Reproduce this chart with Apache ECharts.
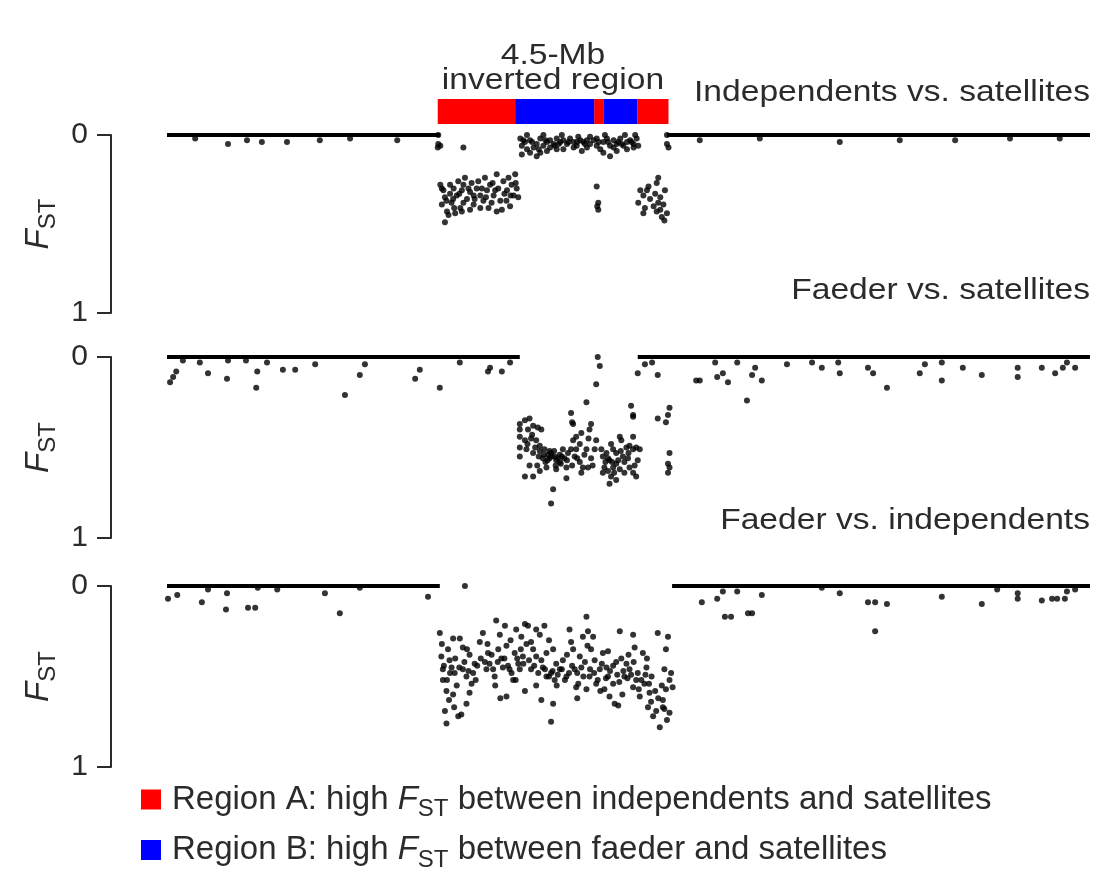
<!DOCTYPE html>
<html>
<head>
<meta charset="utf-8">
<title>FST inverted region</title>
<script src="https://cdn.jsdelivr.net/npm/echarts@6.0.0/dist/echarts.min.js"></script>
<style>
  html, body { margin: 0; padding: 0; background: #fff; }
  #chart { width: 1099px; height: 880px; }
</style>
</head>
<body>
<div id="chart"></div>
<script>
const FONT = "'Liberation Sans', Arial, Helvetica, sans-serif";
const INK = '#2b2b2b';
const DOT = '#000';

// positions in Mb along the chromosome
const regionA = [[5.28, 6.79], [8.33, 8.52], [9.17, 9.78]];
const regionB = [[6.79, 8.33], [8.52, 9.17]];
const comparisons = ['Independents vs. satellites', 'Faeder vs. satellites', 'Faeder vs. independents'];
const regionLabel = ['4.5-Mb', 'inverted region'];

// stretches where FST sits at ~0 (so many SNPs they merge into a line)
const zeroIndSat = [[0, 5.32], [9.75, 18]];
const zeroFaeSat = [[0, 6.88], [9.18, 18]];
const zeroFaeInd = [[0, 5.32], [9.85, 18]];

// [position Mb, FST]
const fstIndSat = [
  [0.55, 0.02], [1.19, 0.05], [1.56, 0.03], [1.85, 0.04], [2.34, 0.04], [2.98, 0.03], [3.57, 0.02], [4.49, 0.03], [5.28, 0.07],
  [5.29, 0.0], [5.29, 0.05], [5.33, 0.06], [5.78, 0.07],
  [6.89, 0.02], [6.92, 0.06], [6.98, 0.04], [7.02, 0.08], [7.08, 0.03], [7.15, 0.07], [7.21, 0.05], [7.28, 0.02], [7.34, 0.06],
  [7.41, 0.04], [7.47, 0.03], [7.54, 0.05], [7.60, 0.02], [7.67, 0.04], [7.73, 0.03], [7.80, 0.05], [7.86, 0.02], [7.93, 0.04],
  [7.99, 0.06], [8.06, 0.03], [8.12, 0.04], [8.19, 0.07], [8.25, 0.05], [8.32, 0.03], [8.38, 0.06], [8.45, 0.08], [8.51, 0.04],
  [8.58, 0.02], [8.64, 0.06], [8.71, 0.03], [8.77, 0.05], [8.84, 0.02], [8.90, 0.06], [8.97, 0.04], [9.03, 0.03], [9.10, 0.05],
  [9.16, 0.02], [9.19, 0.06], [6.92, 0.11], [7.08, 0.10], [7.21, 0.12], [7.41, 0.09], [7.73, 0.08], [8.09, 0.09], [8.51, 0.10],
  [8.64, 0.12], [8.77, 0.09], [8.97, 0.08], [7.02, 0.0], [7.34, 0.0], [7.70, 0.0], [8.02, 0.01], [8.25, 0.01], [8.54, 0.0],
  [8.93, 0.0], [9.13, 0.0], [7.28, 0.10], [7.47, 0.07], [7.60, 0.08], [7.93, 0.07], [8.19, 0.03], [8.38, 0.02], [8.71, 0.07],
  [9.10, 0.07], [7.12, 0.04], [7.38, 0.03], [7.56, 0.06], [7.83, 0.04], [8.15, 0.05], [8.42, 0.04], [8.80, 0.04], [9.06, 0.04],
  [6.95, 0.03], [7.25, 0.08], [7.64, 0.05], [8.00, 0.04], [8.60, 0.04], [8.87, 0.05],
  [5.33, 0.28], [5.39, 0.31], [5.42, 0.35], [5.36, 0.39], [5.46, 0.43], [5.42, 0.49], [5.52, 0.33], [5.59, 0.30], [5.55, 0.38],
  [5.65, 0.34], [5.72, 0.41], [5.75, 0.31], [5.78, 0.28], [5.85, 0.36], [5.81, 0.24], [5.91, 0.32], [5.98, 0.39], [6.04, 0.30],
  [6.11, 0.34], [6.07, 0.26], [6.17, 0.37], [6.24, 0.31], [6.30, 0.28], [6.27, 0.41], [6.37, 0.34], [6.43, 0.22], [6.46, 0.30],
  [6.50, 0.37], [6.56, 0.26], [6.63, 0.31], [6.69, 0.40], [6.72, 0.28], [6.76, 0.34], [6.79, 0.22], [6.82, 0.30], [6.85, 0.35],
  [5.49, 0.45], [5.62, 0.44], [5.75, 0.43], [5.91, 0.42], [6.11, 0.41], [6.43, 0.43], [6.53, 0.42], [5.36, 0.30], [5.52, 0.28],
  [5.68, 0.26], [5.94, 0.27], [6.20, 0.24], [6.66, 0.24], [6.33, 0.38], [5.98, 0.34], [5.78, 0.38], [5.45, 0.37], [5.58, 0.36],
  [5.70, 0.33], [5.88, 0.30], [6.00, 0.36], [6.14, 0.30], [6.22, 0.35], [6.40, 0.31], [6.58, 0.33], [6.70, 0.34], [6.80, 0.27],
  [5.60, 0.41], [6.35, 0.27], [6.62, 0.37],
  [8.38, 0.29], [8.41, 0.38], [8.41, 0.42], [8.39, 0.40],
  [9.58, 0.24], [9.55, 0.27], [9.23, 0.31], [9.29, 0.34], [9.19, 0.38], [9.36, 0.31], [9.42, 0.36], [9.32, 0.41], [9.49, 0.40],
  [9.62, 0.35], [9.68, 0.39], [9.55, 0.43], [9.65, 0.46], [9.75, 0.44], [9.29, 0.44], [9.71, 0.31], [9.39, 0.29], [9.52, 0.33],
  [9.62, 0.42], [9.70, 0.48], [9.58, 0.38],
  [9.75, 0.0], [9.75, 0.05], [9.78, 0.07],
  [10.39, 0.03], [11.56, 0.02], [13.12, 0.04], [14.29, 0.03], [15.37, 0.03], [16.44, 0.02], [17.41, 0.02]
];

const fstFaeSat = [
  [0.06, 0.14], [0.18, 0.08], [0.12, 0.11], [0.31, 0.02], [0.64, 0.03], [0.80, 0.09], [1.17, 0.12], [1.19, 0.02], [1.54, 0.02],
  [1.76, 0.08], [1.74, 0.17], [1.95, 0.03], [2.26, 0.07], [2.50, 0.07], [2.89, 0.04], [3.47, 0.21], [3.76, 0.10], [3.86, 0.04],
  [4.84, 0.12], [4.93, 0.07], [5.32, 0.17], [5.71, 0.03], [6.26, 0.08], [6.30, 0.06], [6.53, 0.08], [6.69, 0.03],
  [6.88, 0.37], [6.98, 0.35], [7.07, 0.34], [7.04, 0.40], [7.14, 0.38], [7.23, 0.39], [7.30, 0.40], [6.88, 0.44], [6.98, 0.46],
  [7.10, 0.45], [7.20, 0.46], [7.27, 0.49], [6.88, 0.50], [7.01, 0.51], [7.14, 0.53], [7.27, 0.52], [7.36, 0.51], [7.43, 0.54],
  [7.49, 0.53], [7.56, 0.55], [7.59, 0.57], [7.66, 0.54], [7.75, 0.56], [7.82, 0.53], [7.88, 0.51], [7.92, 0.46], [7.98, 0.44],
  [8.08, 0.42], [8.05, 0.48], [7.92, 0.37], [7.88, 0.31], [7.95, 0.55], [8.05, 0.58], [8.14, 0.54], [8.18, 0.51], [8.27, 0.56],
  [8.34, 0.51], [8.37, 0.46], [8.27, 0.37], [8.24, 0.40], [8.21, 0.61], [8.08, 0.64], [7.79, 0.67], [7.59, 0.62], [7.40, 0.61],
  [7.27, 0.63], [7.14, 0.66], [6.98, 0.66], [6.88, 0.55], [7.07, 0.60], [7.53, 0.73], [7.49, 0.81], [7.66, 0.58], [7.79, 0.61],
  [7.33, 0.56], [7.46, 0.56], [7.72, 0.51], [7.98, 0.51], [8.11, 0.61], [6.88, 0.40], [7.35, 0.54], [7.42, 0.57], [7.50, 0.55],
  [7.55, 0.52], [7.62, 0.56], [7.70, 0.55], [7.38, 0.58], [7.46, 0.52], [7.58, 0.60], [7.25, 0.55], [7.68, 0.59], [7.80, 0.57],
  [7.03, 0.48], [7.18, 0.50], [7.12, 0.43], [8.00, 0.56], [8.22, 0.45], [8.30, 0.60], [7.90, 0.60], [7.22, 0.60],
  [8.50, 0.55], [8.57, 0.53], [8.63, 0.57], [8.70, 0.51], [8.76, 0.53], [8.83, 0.44], [8.86, 0.46], [8.96, 0.50], [9.02, 0.49],
  [9.09, 0.51], [9.15, 0.50], [8.53, 0.61], [8.60, 0.63], [8.70, 0.61], [8.76, 0.59], [8.83, 0.62], [8.92, 0.64], [9.02, 0.61],
  [9.09, 0.64], [9.15, 0.66], [9.18, 0.57], [8.63, 0.70], [8.76, 0.68], [8.47, 0.51], [8.89, 0.55], [8.99, 0.56], [9.09, 0.44],
  [9.22, 0.51], [8.66, 0.48], [8.50, 0.64], [9.05, 0.27], [9.09, 0.33], [8.60, 0.56], [8.68, 0.58], [8.80, 0.57], [8.92, 0.58],
  [8.72, 0.64], [8.55, 0.58], [9.00, 0.53], [8.85, 0.52], [9.12, 0.60], [8.66, 0.66],
  [8.40, 0.0], [8.44, 0.05], [8.37, 0.15], [8.18, 0.25], [7.90, 0.36], [9.09, 0.32], [9.57, 0.34], [9.80, 0.28], [9.77, 0.32],
  [9.73, 0.36], [9.80, 0.53], [9.77, 0.59], [9.80, 0.61], [9.77, 0.64], [9.18, 0.09], [9.57, 0.10], [10.32, 0.13],
  [10.39, 0.13], [10.73, 0.11], [10.84, 0.09], [10.94, 0.14], [10.69, 0.03], [11.12, 0.03], [11.47, 0.06], [11.41, 0.10],
  [11.60, 0.13], [11.31, 0.24], [12.09, 0.04], [12.58, 0.03], [12.77, 0.06], [13.09, 0.03], [13.12, 0.09], [13.67, 0.06],
  [13.77, 0.09], [14.04, 0.17], [14.68, 0.09], [14.78, 0.04], [15.11, 0.03], [15.11, 0.13], [15.52, 0.06], [15.89, 0.10],
  [16.59, 0.06], [16.59, 0.11], [17.06, 0.06], [17.32, 0.09], [17.47, 0.06], [17.71, 0.06], [17.55, 0.03], [9.46, 0.03], [9.32, 0.04]
];

const fstFaeInd = [
  [0.02, 0.07], [0.20, 0.05], [0.68, 0.09], [0.80, 0.02], [1.17, 0.04], [1.15, 0.13], [1.58, 0.12], [1.72, 0.12], [1.77, 0.01],
  [2.15, 0.02], [3.08, 0.04], [3.37, 0.15], [3.76, 0.01], [5.09, 0.06], [5.81, 0.0],
  [5.32, 0.26], [5.58, 0.29], [5.71, 0.29], [5.77, 0.34], [5.35, 0.39], [5.48, 0.35], [5.51, 0.41], [5.38, 0.46], [5.55, 0.45],
  [5.61, 0.48], [5.38, 0.52], [5.45, 0.58], [5.58, 0.60], [5.42, 0.69], [5.45, 0.76], [5.68, 0.72], [5.74, 0.71], [5.84, 0.65],
  [5.90, 0.59], [5.94, 0.54], [5.84, 0.50], [5.77, 0.46], [5.97, 0.48], [6.00, 0.43], [5.90, 0.38], [6.16, 0.26], [6.10, 0.31],
  [6.26, 0.37], [6.29, 0.43], [6.23, 0.46], [6.39, 0.50], [6.42, 0.19], [6.49, 0.27], [6.59, 0.22], [6.62, 0.33], [6.46, 0.35],
  [6.52, 0.40], [6.55, 0.45], [6.68, 0.46], [6.75, 0.52], [6.62, 0.61], [6.78, 0.37], [6.85, 0.43], [6.81, 0.24], [6.91, 0.28],
  [6.98, 0.21], [7.04, 0.22], [7.01, 0.32], [6.94, 0.39], [6.88, 0.46], [6.98, 0.58], [7.10, 0.46], [7.20, 0.39], [7.14, 0.35],
  [7.20, 0.24], [7.27, 0.27], [7.36, 0.22], [7.40, 0.37], [7.33, 0.45], [7.40, 0.50], [7.49, 0.48], [7.53, 0.35], [7.59, 0.43],
  [7.56, 0.52], [7.53, 0.65], [7.49, 0.75], [7.66, 0.46], [7.72, 0.41], [7.79, 0.50], [7.85, 0.24], [7.88, 0.31], [7.92, 0.35],
  [7.95, 0.46], [7.98, 0.56], [8.05, 0.39], [8.08, 0.45], [8.11, 0.28], [8.18, 0.17], [8.21, 0.25], [8.27, 0.35], [8.31, 0.28],
  [8.34, 0.41], [8.24, 0.50], [8.18, 0.57], [8.37, 0.54], [8.44, 0.46], [8.50, 0.37], [8.57, 0.45], [8.53, 0.57], [8.60, 0.50],
  [8.63, 0.61], [8.70, 0.54], [8.73, 0.65], [8.83, 0.25], [8.76, 0.42], [8.86, 0.40], [8.96, 0.43], [8.92, 0.50], [9.02, 0.46],
  [9.09, 0.27], [9.12, 0.34], [9.09, 0.56], [9.15, 0.52], [9.22, 0.61], [9.28, 0.37], [9.35, 0.45], [9.31, 0.54], [9.38, 0.67],
  [9.41, 0.59], [9.48, 0.72], [9.54, 0.69], [9.57, 0.26], [9.61, 0.78], [9.67, 0.67], [9.73, 0.35], [9.77, 0.28], [9.80, 0.52],
  [9.83, 0.48], [9.73, 0.57], [9.67, 0.63], [9.80, 0.70], [9.70, 0.46], [9.86, 0.56],
  [5.40, 0.44], [5.52, 0.48], [5.62, 0.40], [5.70, 0.45], [5.80, 0.42], [5.88, 0.47], [6.05, 0.44], [6.12, 0.40], [6.20, 0.42],
  [6.33, 0.38], [6.36, 0.46], [6.45, 0.42], [6.58, 0.40], [6.65, 0.44], [6.72, 0.48], [6.83, 0.40], [6.90, 0.35], [6.95, 0.43],
  [7.06, 0.41], [7.16, 0.44], [7.24, 0.48], [7.30, 0.41], [7.37, 0.46], [7.45, 0.50], [7.52, 0.47], [7.62, 0.49], [7.70, 0.46],
  [7.76, 0.52], [7.84, 0.48], [7.90, 0.44], [8.00, 0.48], [8.12, 0.50], [8.15, 0.42], [8.25, 0.46], [8.33, 0.48], [8.40, 0.52],
  [8.48, 0.43], [8.56, 0.51], [8.64, 0.47], [8.70, 0.44], [8.78, 0.49], [8.82, 0.53], [8.90, 0.47], [8.98, 0.51], [9.05, 0.49],
  [9.10, 0.42], [9.18, 0.48], [9.25, 0.52], [9.33, 0.49], [9.40, 0.54], [9.45, 0.50], [9.52, 0.58], [9.58, 0.62], [9.65, 0.55],
  [5.46, 0.52], [5.65, 0.55], [6.02, 0.52], [6.40, 0.55], [6.80, 0.52], [7.20, 0.55], [7.60, 0.55], [8.02, 0.54], [8.45, 0.58],
  [8.88, 0.60], [9.20, 0.57], [9.44, 0.64], [5.36, 0.32], [5.85, 0.35], [6.25, 0.32], [6.70, 0.30], [7.10, 0.31], [7.45, 0.30],
  [7.80, 0.38], [8.20, 0.33], [8.60, 0.36], [9.00, 0.38], [9.36, 0.40], [5.50, 0.63], [5.60, 0.67], [6.50, 0.62], [7.30, 0.63],
  [8.00, 0.62], [8.80, 0.66], [9.75, 0.74], [9.70, 0.68],
  [10.43, 0.09], [10.73, 0.07], [10.84, 0.03], [11.12, 0.03], [10.88, 0.17], [11.00, 0.17], [11.33, 0.15], [11.41, 0.15],
  [11.60, 0.05], [12.77, 0.01], [13.12, 0.04], [13.67, 0.09], [13.81, 0.09], [14.04, 0.10], [13.81, 0.25], [15.11, 0.06],
  [15.89, 0.10], [16.19, 0.02], [16.59, 0.07], [16.59, 0.04], [17.06, 0.08], [17.26, 0.07], [17.36, 0.07], [17.51, 0.07],
  [17.71, 0.02], [17.55, 0.03]
];

const panels = [
  { zero: zeroIndSat, points: fstIndSat, top: 135, height: 178, titleY: 93 },
  { zero: zeroFaeSat, points: fstFaeSat, top: 357, height: 181, titleY: 291 },
  { zero: zeroFaeInd, points: fstFaeInd, top: 586, height: 181, titleY: 521 }
];

const rich = {
  a: { fontFamily: FONT, fontSize: 33, color: INK, lineHeight: 44, padding: [0, 0, 0, 6] },
  t: { fontFamily: FONT, fontSize: 33, color: INK, lineHeight: 44 },
  f: { fontFamily: FONT, fontSize: 33, color: INK, lineHeight: 44, fontStyle: 'italic' },
  s: { fontFamily: FONT, fontSize: 24, color: INK, lineHeight: 18, verticalAlign: 'bottom' }
};

const legendText = {
  'Region A': '{a|Region A: high }{f|F}{s|ST}{t| between independents and satellites}',
  'Region B': '{a|Region B: high }{f|F}{s|ST}{t| between faeder and satellites}'
};

function regionBar(params, api) {
  const a = api.coord([api.value(0), 0]);
  const b = api.coord([api.value(1), 0]);
  return {
    type: 'rect',
    shape: { x: a[0], y: a[1] - 36, width: b[0] - a[0], height: 25 },
    style: { fill: api.visual('color') }
  };
}

// the figure's lettering is a little wider than Helvetica, so stretch it a bit
function label(text, x, y, align) {
  return {
    type: 'text', x: x, y: y, scaleX: 1.12,
    style: { text: text, font: '30px ' + FONT, fill: INK, textAlign: align, textVerticalAlign: 'middle' }
  };
}

const chart = echarts.init(document.getElementById('chart'), null, { renderer: 'canvas' });

const series = [];
panels.forEach((p, i) => {
  p.zero.forEach(seg => {
    series.push({
      type: 'line', xAxisIndex: i, yAxisIndex: i,
      data: seg.map(x => [x, 0]),
      showSymbol: false, clip: false, silent: true,
      lineStyle: { color: DOT, width: 4 }
    });
  });
  series.push({
    type: 'scatter', xAxisIndex: i, yAxisIndex: i,
    data: p.points, symbolSize: 6, clip: false, silent: true,
    itemStyle: { color: DOT }
  });
});
series.push(
  { name: 'Region A', type: 'custom', xAxisIndex: 0, yAxisIndex: 0, data: regionA,
    encode: { x: [0, 1] }, renderItem: regionBar, itemStyle: { color: '#ff0000' }, silent: true },
  { name: 'Region B', type: 'custom', xAxisIndex: 0, yAxisIndex: 0, data: regionB,
    encode: { x: [0, 1] }, renderItem: regionBar, itemStyle: { color: '#0000ff' }, silent: true }
);

const option = {
  animation: false,
  backgroundColor: '#fff',
  grid: panels.map(p => ({ left: 167, right: 9, top: p.top, height: p.height })),
  xAxis: panels.map((p, i) => ({ gridIndex: i, type: 'value', min: 0, max: 18, show: false })),
  yAxis: panels.map((p, i) => ({
    gridIndex: i, type: 'value', min: 0, max: 1, interval: 1, inverse: true, offset: 56,
    axisLine: { show: true, onZero: false, lineStyle: { color: INK, width: 2 } },
    axisTick: { show: true, length: 14, lineStyle: { color: INK, width: 2 } },
    axisLabel: { margin: 23, fontSize: 30, fontFamily: FONT, color: INK },
    splitLine: { show: false },
    name: '{f|F}{s|ST}', nameLocation: 'middle', nameRotate: 90, nameGap: 50,
    nameTextStyle: { rich: rich }
  })),
  legend: {
    data: ['Region A', 'Region B'],
    orient: 'vertical', left: 141, top: 783, padding: 0, itemGap: 12,
    itemWidth: 20, itemHeight: 20, icon: 'rect', selectedMode: false,
    formatter: name => legendText[name],
    textStyle: { rich: rich }
  },
  graphic: [
    label(regionLabel[0], 553, 56, 'center'),
    label(regionLabel[1], 553, 81, 'center')
  ].concat(panels.map((p, i) => label(comparisons[i], 1090, p.titleY, 'right'))),
  series: series
};

chart.setOption(option);
</script>
</body>
</html>
